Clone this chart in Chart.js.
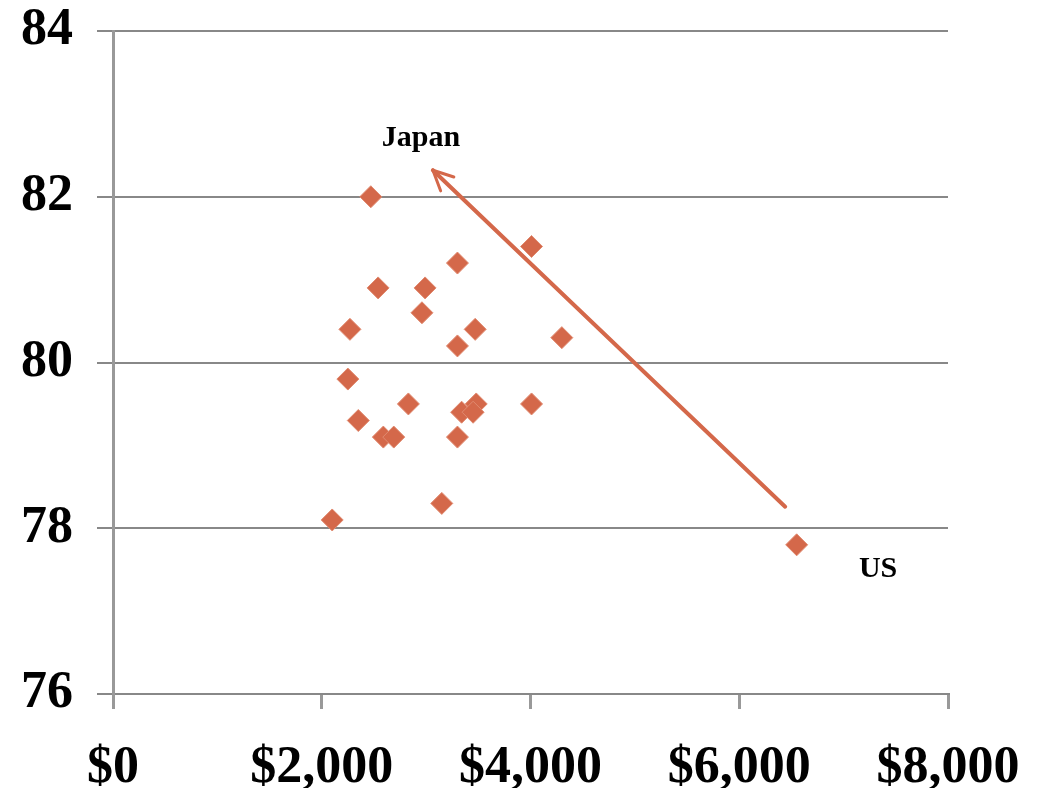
<!DOCTYPE html>
<html lang="en">
<head>
  <meta charset="utf-8">
  <title>Spending vs life expectancy</title>
  <script type="text/javascript" src="https://cdn.jsdelivr.net/npm/chart.js"></script>
  <style type="text/css">
    body { margin: 0; background: #fff; }
    #wrap { width: 1048px; height: 788px; }
  </style>
</head>
<body>
  <div id="wrap"><canvas id="chart"></canvas></div>

  <script type="text/javascript">
    // spending per capita ($) and life expectancy (years)
    const spending = [2470, 4010, 3300, 2540, 2990, 2960, 2270, 3470, 3300, 4300,
                      2250, 2830, 4010, 3340, 3480, 3450, 2350, 2590, 2690, 3300,
                      3150, 2100, 6550];
    const lifeExp  = [82.0, 81.4, 81.2, 80.9, 80.9, 80.6, 80.4, 80.4, 80.2, 80.3,
                      79.8, 79.5, 79.5, 79.4, 79.5, 79.4, 79.3, 79.1, 79.1, 79.1,
                      78.3, 78.1, 77.8];
    const xTicks = [0, 2000, 4000, 6000, 8000];
    const yTicks = [76, 78, 80, 82, 84];

    // arrow from US towards Japan, and the two labels
    const arrowFrom = { x: 6440, y: 78.26 };
    const arrowTo = { x: 3065, y: 82.32 };
    const notes = [
      { text: 'Japan', x: 2950, y: 82.7 },
      { text: 'US', x: 7330, y: 77.5 }
    ];

    const orange = '#d4684a';
    const serif = '"Liberation Serif", "DejaVu Serif", serif';

    const annotate = {
      id: 'annotate',
      afterDatasetsDraw(chart) {
        const { ctx, scales: { x, y } } = chart;
        const x1 = x.getPixelForValue(arrowFrom.x), y1 = y.getPixelForValue(arrowFrom.y);
        const x2 = x.getPixelForValue(arrowTo.x), y2 = y.getPixelForValue(arrowTo.y);
        const ang = Math.atan2(y2 - y1, x2 - x1);
        ctx.save();
        ctx.strokeStyle = orange;
        ctx.lineWidth = 4;
        ctx.lineCap = 'round';
        ctx.beginPath();
        ctx.moveTo(x1, y1);
        ctx.lineTo(x2, y2);
        ctx.stroke();
        ctx.lineWidth = 3;
        ctx.beginPath();
        [0.45, -0.45].forEach(d => {
          ctx.moveTo(x2, y2);
          ctx.lineTo(x2 - 22 * Math.cos(ang + d), y2 - 22 * Math.sin(ang + d));
        });
        ctx.stroke();
        ctx.fillStyle = '#000';
        ctx.font = 'bold 30px ' + serif;
        ctx.textAlign = 'center';
        ctx.textBaseline = 'middle';
        notes.forEach(n => ctx.fillText(n.text, x.getPixelForValue(n.x), y.getPixelForValue(n.y)));
        ctx.restore();
      }
    };

    new Chart(document.getElementById('chart'), {
      type: 'scatter',
      data: {
        datasets: [{
          data: spending.map((v, i) => ({ x: v, y: lifeExp[i] })),
          pointStyle: 'rectRot',
          pointRadius: 11,
          pointHoverRadius: 11,
          backgroundColor: orange,
          borderColor: '#e08a70',
          borderWidth: 1
        }]
      },
      options: {
        responsive: true,
        maintainAspectRatio: false,
        animation: false,
        layout: { padding: { top: 31, right: 100, left: 0, bottom: 0 } },
        plugins: { legend: { display: false }, tooltip: { enabled: false } },
        scales: {
          x: {
            min: 0, max: 8000,
            afterBuildTicks: s => { s.ticks = xTicks.map(v => ({ value: v })); },
            afterFit: s => { s.height = 94; },
            grid: { drawOnChartArea: false, drawTicks: true, tickLength: 15, color: '#999', lineWidth: 3 },
            border: { color: '#888', width: 2 },
            ticks: {
              color: '#000', padding: 28, maxRotation: 0,
              font: { family: serif, size: 52, weight: 'bold' },
              callback: v => '$' + v.toLocaleString('en-US')
            }
          },
          y: {
            min: 76, max: 84,
            afterBuildTicks: s => { s.ticks = yTicks.map(v => ({ value: v })); },
            afterFit: s => { s.width = 113; s.paddingTop = 0; s.paddingBottom = 0; },
            grid: { color: '#888', lineWidth: 2, tickLength: 16 },
            border: { color: '#999', width: 3 },
            ticks: {
              color: '#000', padding: 24,
              font: { family: serif, size: 52, weight: 'bold' }
            }
          }
        }
      },
      plugins: [annotate]
    });
  </script>
</body>
</html>
